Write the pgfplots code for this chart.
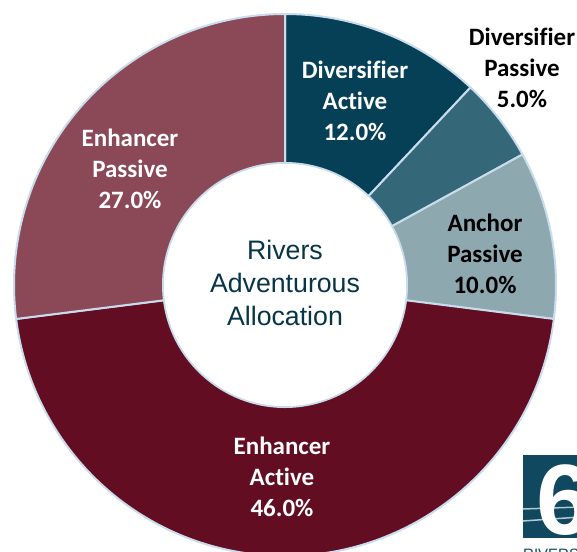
\documentclass[border=0pt]{standalone}
\usepackage{pgfplots}
\pgfplotsset{compat=1.18}
\usepackage{fontspec}
\setmainfont{Carlito}[Ligatures=NoCommon]
\newfontfamily\ctrfont{Liberation Sans}
\definecolor{cDA}{RGB}{5,64,86}
\definecolor{cDP}{RGB}{52,103,120}
\definecolor{cAP}{RGB}{141,168,174}
\definecolor{cEA}{RGB}{98,13,34}
\definecolor{cEP}{RGB}{139,73,88}
\definecolor{cBorder}{RGB}{200,220,238}
\definecolor{cCenter}{RGB}{8,52,72}
\definecolor{cLogo}{RGB}{16,72,96}
\begin{document}
\begin{tikzpicture}
\begin{axis}[
  x=1pt, y=1pt,
  xmin=0, xmax=577, ymin=0, ymax=551,
  hide axis, clip=true,
]
\pgfplotsextra{
  % slices: value (percent) / colour, clockwise from 12 o'clock
  \foreach \v/\c [evaluate=\v as \cum using \prev+\v, remember=\cum as \prev (initially 0)] in
     {12/cDA, 5/cDP, 10/cAP, 46/cEA, 27/cEP} {
    \pgfmathsetmacro{\a}{90-3.6*\prev}
    \pgfmathsetmacro{\b}{90-3.6*\cum}
    \filldraw[fill=\c, draw=cBorder, line width=2pt, line join=round]
      ([shift={(\a:271pt)}]axis cs:285,266)
      arc[start angle=\a, end angle=\b, radius=271pt]
      -- ([shift={(\b:122pt)}]axis cs:285,266)
      arc[start angle=\b, end angle=\a, radius=122pt] -- cycle;
  }
  \fill[white] (axis cs:285,266) circle[radius=121pt];
}
\node[align=center, text=white, font=\fontsize{25}{31}\selectfont\bfseries] at (axis cs:355,450) {Diversifier\\Active\\12.0\%};
\node[align=center, text=black, font=\fontsize{25}{31}\selectfont\bfseries] at (axis cs:522,483) {Diversifier\\Passive\\5.0\%};
\node[align=center, text=black, font=\fontsize{25}{31}\selectfont\bfseries] at (axis cs:485,297) {Anchor\\Passive\\10.0\%};
\node[align=center, text=white, font=\fontsize{25}{31}\selectfont\bfseries] at (axis cs:282,74) {Enhancer\\Active\\46.0\%};
\node[align=center, text=white, font=\fontsize{25}{31}\selectfont\bfseries] at (axis cs:130,382) {Enhancer\\Passive\\27.0\%};
\node[align=center, text=cCenter, font=\ctrfont\fontsize{26.7}{33}\selectfont] at (axis cs:285,268) {Rivers\\Adventurous\\Allocation};
% logo fragment
\fill[cLogo] (axis cs:523,13) rectangle (axis cs:580,96);
\draw[white!70!cLogo, line width=1.5pt] (axis cs:523,30) -- (axis cs:580,34);
\draw[white!70!cLogo, line width=1.5pt] (axis cs:523,42) -- (axis cs:580,44);
\node[text=white, font=\ctrfont\bfseries\fontsize{100}{100}\selectfont, anchor=base west, inner sep=0pt, text depth=0pt] at (axis cs:536,17) {6};
\node[text=cLogo, font=\ctrfont\fontsize{15}{15}\selectfont, anchor=base west, inner sep=0pt] at (axis cs:523,-8) {RIVERS};
\end{axis}
\pgfresetboundingbox
\useasboundingbox (current axis.south west) rectangle (current axis.north east);
\end{tikzpicture}
\end{document}
